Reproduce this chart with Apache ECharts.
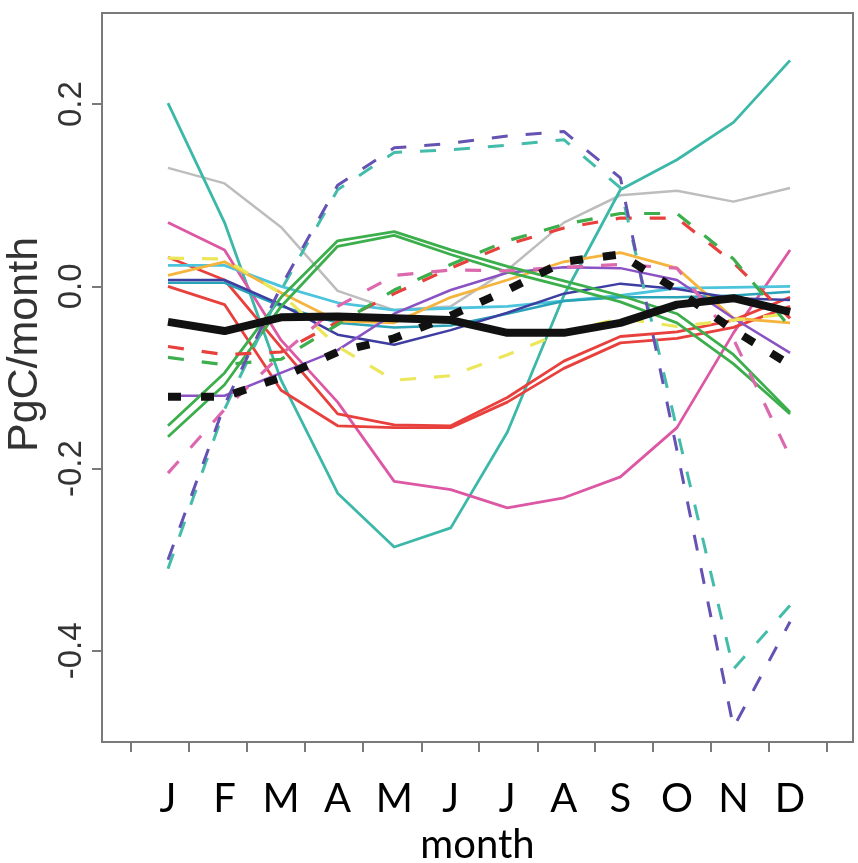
<!DOCTYPE html>
<html>
<head>
<meta charset="utf-8">
<script src="https://cdn.jsdelivr.net/npm/echarts@6/dist/echarts.min.js"></script>
<style>
  html, body { margin: 0; padding: 0; background: #ffffff; }
  #chart { width: 858px; height: 863px; }
</style>
</head>
<body>
<div id="chart"></div>
<script>
// Month initials shown under the x axis (x positions 1..12)
const months = ['J', 'F', 'M', 'A', 'M', 'J', 'J', 'A', 'S', 'O', 'N', 'D'];
const monthPositions = [1, 2, 3, 4, 5, 6, 7, 8, 9, 10, 11, 12];
// Tick marks along the bottom axis (in month units)
const xTickMarks = [0.35, 1.37, 2.40, 3.42, 4.45, 5.48, 6.50, 7.53, 8.55, 9.58, 10.60, 11.63, 12.65];
// Y ticks (PgC/month)
const yTicks = [-0.4, -0.2, 0.0, 0.2];

// Monthly fluxes, PgC/month, Jan..Dec
const tealSolid   = [0.201, 0.070, -0.103, -0.227, -0.286, -0.265, -0.160, -0.010, 0.106, 0.139, 0.180, 0.248];
const graySolid   = [0.130, 0.113, 0.065, -0.005, -0.026, -0.022, 0.018, 0.070, 0.100, 0.105, 0.093, 0.108];
const pinkSolid   = [0.070, 0.040, -0.059, -0.127, -0.214, -0.223, -0.243, -0.232, -0.209, -0.155, -0.051, 0.040];
const redSolidA   = [0.032, 0.007, -0.067, -0.140, -0.152, -0.153, -0.122, -0.082, -0.055, -0.050, -0.037, -0.012];
const redSolidB   = [0.000, -0.020, -0.114, -0.153, -0.155, -0.155, -0.127, -0.090, -0.062, -0.057, -0.045, -0.022];
const lightCyan   = [0.023, 0.023, 0.000, -0.018, -0.026, -0.024, -0.022, -0.016, -0.010, -0.002, -0.001, 0.000];
const tealBlue    = [0.004, 0.004, -0.022, -0.040, -0.045, -0.043, -0.030, -0.016, -0.012, -0.012, -0.010, -0.006];
const orangeSolid = [0.012, 0.027, -0.007, -0.038, -0.040, -0.012, 0.007, 0.027, 0.037, 0.020, -0.035, -0.040];
const indigoSolid = [0.007, 0.007, -0.020, -0.053, -0.064, -0.048, -0.029, -0.008, 0.003, -0.003, -0.013, -0.015];
const violetSolid = [-0.120, -0.120, -0.095, -0.070, -0.030, -0.004, 0.015, 0.021, 0.020, 0.007, -0.035, -0.073];
const greenSolidA = [-0.153, -0.095, -0.012, 0.050, 0.060, 0.040, 0.022, 0.006, -0.010, -0.030, -0.075, -0.138];
const greenSolidB = [-0.165, -0.108, -0.022, 0.044, 0.056, 0.035, 0.016, 0.000, -0.017, -0.040, -0.085, -0.140];
const yellowDash  = [0.031, 0.030, -0.008, -0.066, -0.103, -0.098, -0.075, -0.050, -0.035, -0.044, -0.037, -0.030];
const redDash     = [-0.066, -0.075, -0.072, -0.039, -0.008, 0.020, 0.046, 0.064, 0.075, 0.075, 0.026, -0.035];
const greenDash   = [-0.078, -0.086, -0.080, -0.042, -0.004, 0.024, 0.050, 0.068, 0.080, 0.080, 0.030, -0.045];
const pinkDash    = [-0.205, -0.135, -0.075, -0.022, 0.012, 0.018, 0.017, 0.021, 0.024, 0.020, -0.058, -0.187];
const tealDash    = [-0.310, -0.135, -0.004, 0.106, 0.147, 0.150, 0.155, 0.161, 0.108, -0.157, -0.420, -0.350];
const purpleDash  = [-0.300, -0.130, 0.000, 0.111, 0.152, 0.157, 0.165, 0.170, 0.119, -0.180, -0.484, -0.368];
const meanSolid   = [-0.039, -0.049, -0.034, -0.033, -0.035, -0.037, -0.051, -0.051, -0.040, -0.020, -0.013, -0.028];
const meanDash    = [-0.121, -0.121, -0.100, -0.072, -0.057, -0.032, -0.004, 0.027, 0.035, -0.004, -0.048, -0.086];

const DASH = [16, 18];
const lineDefs = [
  { values: graySolid,   color: '#bdbdbd', width: 2.5, type: 'solid' },
  { values: tealSolid,   color: '#3cb8a8', width: 2.8, type: 'solid' },
  { values: pinkSolid,   color: '#dc58a4', width: 2.8, type: 'solid' },
  { values: redSolidA,   color: '#e8403c', width: 2.8, type: 'solid' },
  { values: redSolidB,   color: '#e8403c', width: 2.8, type: 'solid' },
  { values: lightCyan,   color: '#4cc4dc', width: 2.8, type: 'solid' },
  { values: tealBlue,    color: '#2aa2b8', width: 2.5, type: 'solid' },
  { values: orangeSolid, color: '#f5b43e', width: 2.8, type: 'solid' },
  { values: indigoSolid, color: '#3e3ea2', width: 2.5, type: 'solid' },
  { values: violetSolid, color: '#8a52c2', width: 2.5, type: 'solid' },
  { values: greenSolidA, color: '#3cae4c', width: 2.8, type: 'solid' },
  { values: greenSolidB, color: '#3cae4c', width: 2.8, type: 'solid' },
  { values: yellowDash,  color: '#ece65a', width: 3.2, type: DASH },
  { values: redDash,     color: '#e8403c', width: 3.2, type: DASH },
  { values: greenDash,   color: '#3cae4c', width: 3.2, type: DASH },
  { values: pinkDash,    color: '#dc68ae', width: 3.2, type: DASH },
  { values: tealDash,    color: '#44bcaa', width: 3.0, type: DASH },
  { values: purpleDash,  color: '#6552b2', width: 3.0, type: DASH },
  { values: meanSolid,   color: '#111111', width: 8,   type: 'solid' },
  { values: meanDash,    color: '#111111', width: 8,   type: [13, 20] }
];

const series = lineDefs.map(d => ({
  type: 'line',
  data: d.values.map((v, i) => [monthPositions[i], v]),
  showSymbol: false,
  symbol: 'none',
  silent: true,
  lineStyle: { color: d.color, width: d.width, type: d.type, cap: 'butt', join: 'round' }
}));

const axisGray = '#7a7a7a';
const chart = echarts.init(document.getElementById('chart'), null, { renderer: 'canvas' });
chart.setOption({
  animation: false,
  backgroundColor: '#ffffff',
  grid: {
    left: 102, right: 5, top: 13, bottom: 121,
    containLabel: false,
    outerBoundsMode: 'none',
    show: true, borderColor: axisGray, borderWidth: 2, backgroundColor: 'transparent'
  },
  xAxis: {
    type: 'value',
    min: -0.167,
    max: 13.113,
    axisLine: { show: true, onZero: false, lineStyle: { color: axisGray, width: 2 } },
    axisTick: { show: true, customValues: xTickMarks, length: 10, lineStyle: { color: axisGray, width: 2 } },
    axisLabel: {
      customValues: monthPositions,
      formatter: v => months[Math.round(v) - 1],
      fontFamily: 'Lato', fontSize: 40, color: '#000', margin: 37
    },
    splitLine: { show: false },
    name: 'month',
    nameLocation: 'middle',
    nameGap: 83,
    nameTextStyle: { fontFamily: 'Lato', fontSize: 40, color: '#000' }
  },
  yAxis: {
    type: 'value',
    min: -0.5,
    max: 0.3,
    axisLine: { show: true, onZero: false, lineStyle: { color: axisGray, width: 2 } },
    axisTick: { show: true, customValues: yTicks, length: 10, lineStyle: { color: axisGray, width: 2 } },
    axisLabel: {
      customValues: yTicks,
      rotate: 90,
      formatter: v => v.toFixed(1),
      fontFamily: 'Liberation Sans', fontSize: 33, color: '#333', margin: 14
    },
    splitLine: { show: false },
    name: 'PgC/month',
    nameLocation: 'middle',
    nameRotate: 90,
    nameGap: 40,
    nameTextStyle: { fontFamily: 'Liberation Sans', fontSize: 43, color: '#333', padding: [0, 0, 0, 66] }
  },
  series: series
});
</script>
</body>
</html>
